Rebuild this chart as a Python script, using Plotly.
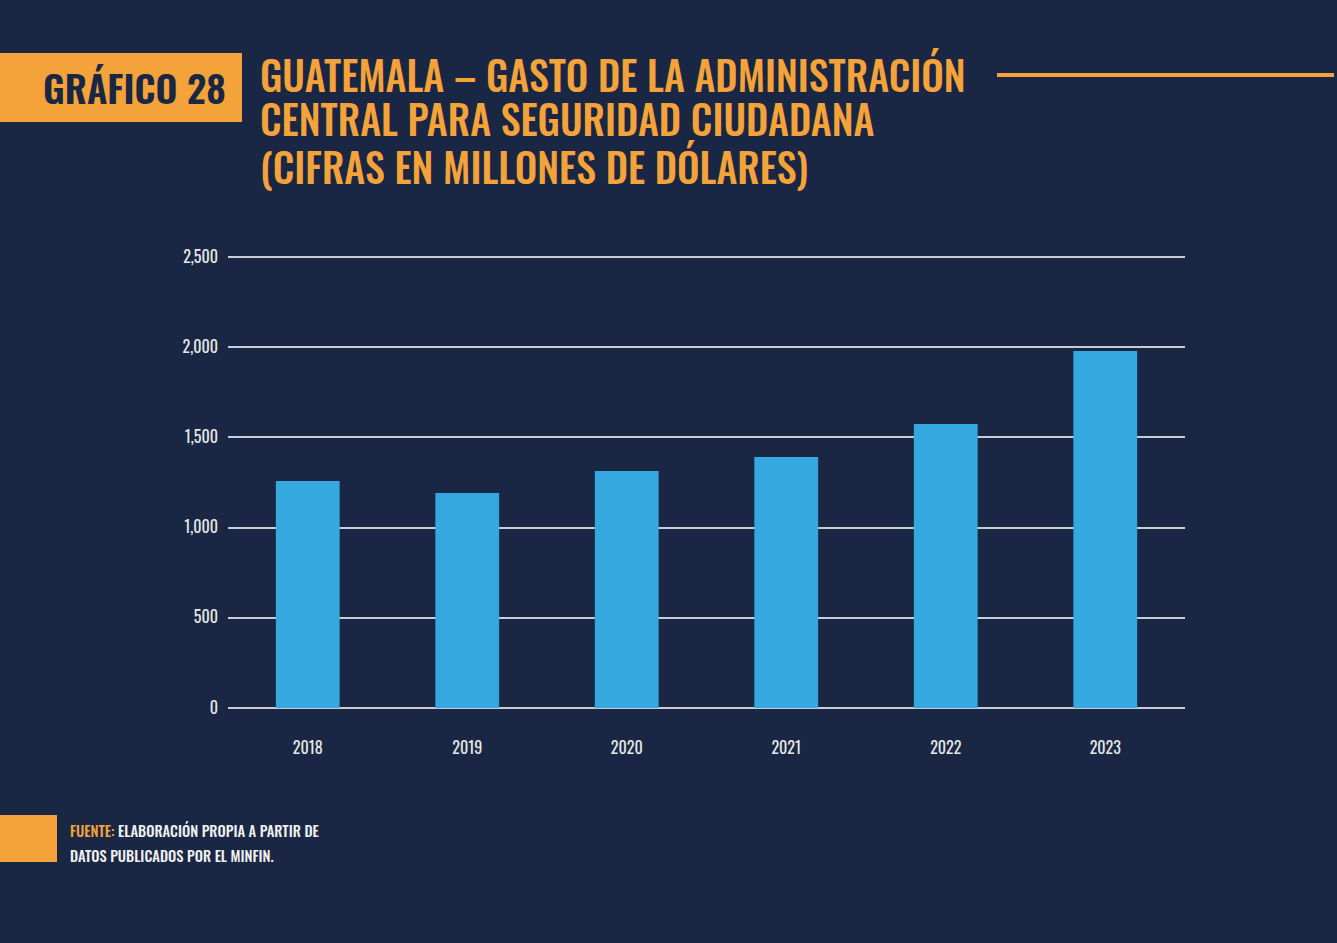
import plotly.graph_objects as go

years = ["2018", "2019", "2020", "2021", "2022", "2023"]
gasto = [1258, 1192, 1314, 1391, 1574, 1979]
y_ticks = [0, 500, 1000, 1500, 2000, 2500]
y_tick_labels = ["0", "500", "1,000", "1,500", "2,000", "2,500"]
title_lines = [
    "GUATEMALA – GASTO DE LA ADMINISTRACIÓN",
    "CENTRAL PARA SEGURIDAD CIUDADANA",
    "(CIFRAS EN MILLONES DE DÓLARES)",
]
source_lines = [
    "<span style='color:#f4a23a'>FUENTE:</span> ELABORACIÓN PROPIA A PARTIR DE",
    "DATOS PUBLICADOS POR EL MINFIN.",
]

W, H = 1337, 943
L, R, T, B = 228, 1185, 255, 708
YMAX = 2511
BG = "#1a2744"
ORANGE = "#f4a23a"
BLUE = "#35a8e0"
FONT = "Oswald, 'Roboto Condensed', 'DejaVu Sans Condensed', sans-serif"


def px(x):
    return (x - L) / (R - L)


def py(y):
    return (B - y) / (B - T)


fig = go.Figure(
    go.Bar(
        x=years,
        y=gasto,
        marker=dict(color=BLUE, line=dict(width=0)),
        hoverinfo="x+y",
    )
)

fig.update_layout(
    width=W,
    height=H,
    paper_bgcolor=BG,
    plot_bgcolor=BG,
    margin=dict(l=L, r=W - R, t=T, b=H - B, pad=0),
    bargap=0.6,
    showlegend=False,
    font=dict(family=FONT, color="#e8e8e8", size=16),
    xaxis=dict(
        showgrid=False,
        showline=False,
        ticks="",
        tickfont=dict(family=FONT, size=16, color="#e8e8e8"),
        ticklabelstandoff=29,
    ),
    yaxis=dict(
        range=[0, YMAX],
        tickvals=y_ticks,
        ticktext=y_tick_labels,
        showgrid=True,
        gridcolor="#c9ccd3",
        gridwidth=2,
        zeroline=True,
        zerolinecolor="#c9ccd3",
        zerolinewidth=2,
        ticks="",
        ticklabelstandoff=9,
        tickfont=dict(family=FONT, size=16, color="#e8e8e8"),
    ),
)

shapes = [
    dict(type="rect", xref="paper", yref="paper", x0=px(0), x1=px(242), y0=py(53), y1=py(122),
         fillcolor=ORANGE, line=dict(width=0), layer="below"),
    dict(type="line", xref="paper", yref="paper", x0=px(997), x1=px(1334), y0=py(75), y1=py(75),
         line=dict(color=ORANGE, width=4)),
    dict(type="rect", xref="paper", yref="paper", x0=px(0), x1=px(57), y0=py(815), y1=py(862),
         fillcolor=ORANGE, line=dict(width=0), layer="below"),
]
fig.update_layout(shapes=shapes)

annotations = [
    dict(text="GRÁFICO 28", xref="paper", yref="paper", x=px(228), y=py(87),
         xanchor="right", yanchor="middle", showarrow=False,
         font=dict(family=FONT, size=38, color=BG, weight=600)),
]
title_y = [73.5, 118.5, 166]
for line, yy in zip(title_lines, title_y):
    annotations.append(
        dict(text=line, xref="paper", yref="paper", x=px(258), y=py(yy),
             xanchor="left", yanchor="middle", align="left", showarrow=False,
             font=dict(family=FONT, size=40, color=ORANGE, weight=500))
    )
for i, line in enumerate(source_lines):
    annotations.append(
        dict(text=line, xref="paper", yref="paper", x=px(68), y=py(830 + 25 * i),
             xanchor="left", yanchor="middle", align="left", showarrow=False,
             font=dict(family=FONT, size=14.6, color="#f0f0f0", weight=500))
    )
fig.update_layout(annotations=annotations)

fig.write_html(
    "out.html",
    config={"displayModeBar": False},
    post_script="document.body.style.margin='0';document.body.style.overflow='hidden';",
)
